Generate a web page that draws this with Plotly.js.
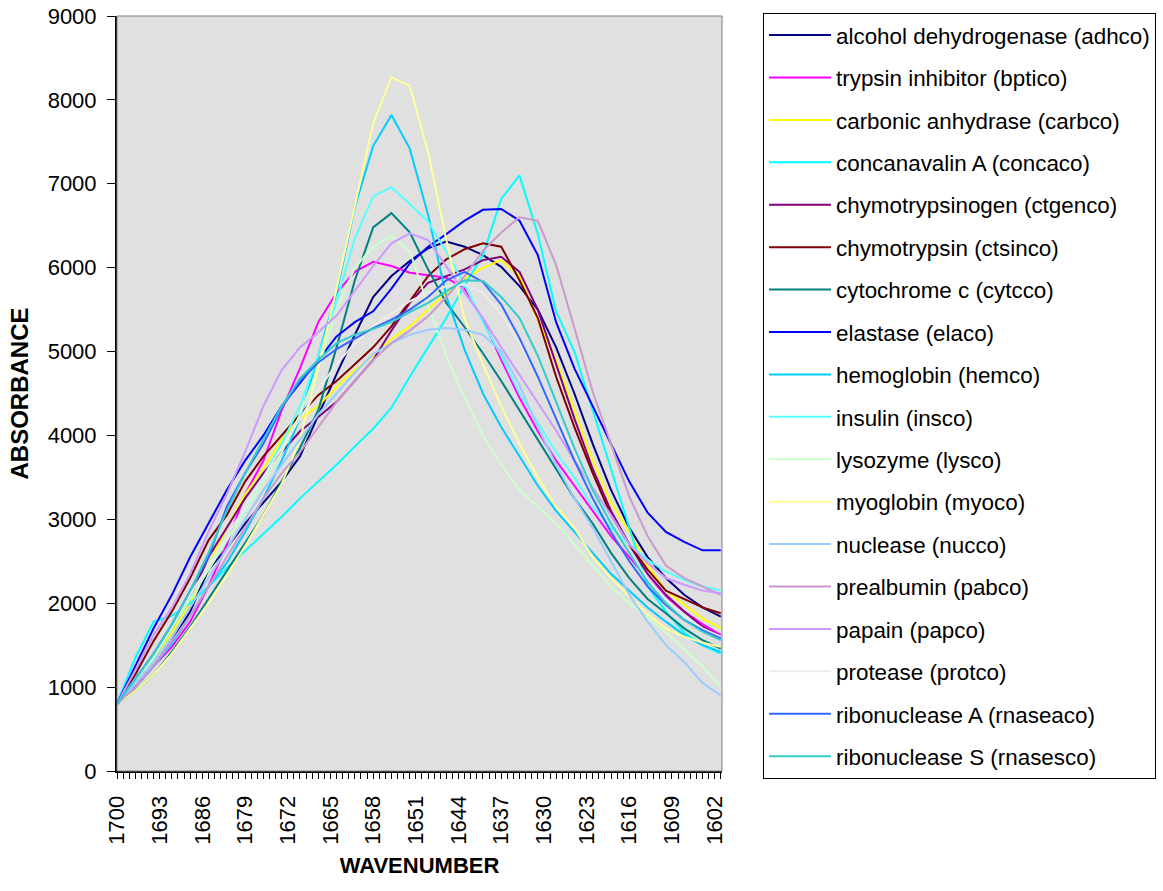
<!DOCTYPE html>
<html><head><meta charset="utf-8">
<script src="https://cdn.plot.ly/plotly-3.0.1.min.js"></script>
<style>html,body{margin:0;padding:0;background:#fff;}#chart{width:1163px;height:891px;}</style>
</head><body><div id="chart"></div>
<script>
const wavenumber = [1700,1697,1694,1691,1688,1685,1682,1679,1676,1673,1670,1667,1664,1661,1658,1655,1652,1649,1646,1643,1640,1637,1634,1631,1628,1625,1622,1619,1616,1613,1610,1607,1604,1601];
const tickLabels = [1700,1693,1686,1679,1672,1665,1658,1651,1644,1637,1630,1623,1616,1609,1602];
const yTicks = [0,1000,2000,3000,4000,5000,6000,7000,8000,9000];

const seriesNames = ["alcohol dehydrogenase (adhco)","trypsin inhibitor (bptico)","carbonic anhydrase (carbco)","concanavalin A (concaco)","chymotrypsinogen (ctgenco)","chymotrypsin (ctsinco)","cytochrome c (cytcco)","elastase (elaco)","hemoglobin (hemco)","insulin (insco)","lysozyme (lysco)","myoglobin (myoco)","nuclease (nucco)","prealbumin (pabco)","papain (papco)","protease (protco)","ribonuclease A (rnaseaco)","ribonuclease S (rnasesco)"];
const seriesColors = ["#000080","#FF00FF","#FFFF00","#00FFFF","#800080","#800000","#008080","#0000FF","#00CCFF","#55FFFF","#CCFFCC","#FFFF99","#99CCFF","#CC99CC","#CC99FF","#EBEBEB","#3366FF","#33CCCC"];

const adhco   = [800,1000,1250,1550,1900,2400,2660,2950,3200,3450,3750,4250,4730,5200,5650,5900,6080,6230,6310,6250,6150,6010,5780,5500,5050,4500,3900,3350,2900,2550,2300,2100,1950,1840];
const bptico  = [800,1000,1250,1480,1780,2200,2700,3300,3700,4300,4800,5350,5700,5950,6070,6020,5940,5910,5880,5750,5380,4900,4450,4050,3700,3400,3100,2800,2550,2300,2080,1900,1750,1620];
const carbco  = [800,1050,1350,1650,2000,2450,2900,3300,3600,3950,4200,4350,4580,4780,4950,5150,5300,5500,5700,5870,6000,6090,5900,5370,4900,4300,3700,3200,2850,2450,2150,1980,1820,1700];
const concaco = [800,1350,1780,1850,2000,2200,2420,2620,2830,3030,3250,3450,3650,3870,4080,4330,4700,5050,5400,5790,6150,6820,7100,6400,5480,5000,4310,3600,2900,2200,1900,1650,1500,1400];
const ctgenco = [800,1050,1350,1700,2050,2550,2900,3250,3550,3800,4050,4220,4400,4650,4900,5250,5580,5820,5900,5980,6090,6130,5950,5500,4850,4200,3600,3100,2700,2350,2100,1900,1720,1600];
const ctsinco = [800,1150,1550,1900,2300,2750,3050,3450,3750,4000,4250,4480,4650,4850,5050,5300,5600,5900,6100,6220,6290,6250,5850,5400,4700,4100,3550,3050,2700,2400,2150,2050,1950,1880];
const cytcco  = [800,950,1150,1420,1720,2050,2380,2720,3050,3450,3850,4300,5050,5850,6480,6650,6420,5980,5580,5290,4980,4650,4300,3950,3600,3250,2950,2600,2300,2050,1880,1700,1560,1460];
const elaco   = [800,1250,1700,2100,2550,2950,3350,3700,4000,4350,4620,4900,5180,5350,5480,5750,6050,6250,6400,6560,6690,6700,6560,6150,5350,4800,4350,3900,3450,3080,2850,2730,2630,2630];
const hemco   = [800,1000,1250,1520,1850,2200,2480,2850,3250,3700,4200,4950,5700,6720,7450,7820,7420,6630,5660,5020,4500,4100,3750,3400,3100,2850,2600,2350,2150,1950,1780,1620,1500,1420];
const insco   = [800,1050,1350,1700,2050,2400,2750,3100,3500,3900,4350,4950,5600,6350,6850,6960,6760,6550,6190,5800,5350,4950,4500,4150,3800,3500,3150,2900,2700,2520,2380,2280,2200,2150];
const lysco   = [800,1050,1350,1700,2050,2400,2750,3100,3450,3800,4250,4800,5500,6000,6250,6380,6200,5550,4950,4450,4000,3650,3350,3150,2950,2700,2450,2200,2000,1820,1650,1450,1250,1000];
const myoco   = [800,950,1150,1400,1700,2000,2330,2680,3050,3420,3950,4800,5750,6720,7720,8270,8170,7380,6330,5390,4850,4350,3900,3500,3150,2900,2550,2300,2080,1870,1700,1600,1530,1480];
const nucco   = [800,1050,1300,1600,1950,2300,2650,3000,3350,3650,3950,4250,4500,4750,4970,5100,5200,5260,5280,5260,5200,5000,4600,4100,3650,3250,2900,2500,2100,1780,1500,1300,1050,900];
const pabco   = [800,1000,1250,1550,1850,2200,2550,2900,3250,3550,3800,4100,4400,4650,4900,5100,5250,5420,5650,5900,6200,6420,6600,6560,6030,5280,4520,3900,3270,2800,2450,2300,2200,2100];
const papco   = [800,1200,1620,1950,2350,2850,3300,3800,4350,4780,5050,5230,5430,5720,6020,6290,6410,6330,6010,5700,5400,5050,4720,4390,4060,3700,3370,3050,2700,2480,2300,2220,2150,2120];
const protco  = [800,1100,1400,1750,2100,2450,2800,3150,3500,3850,4200,4550,4850,5100,5300,5450,5600,5700,5780,5800,5700,5450,5100,4700,4250,3800,3350,2950,2600,2300,2050,1850,1700,1600];
const rnaseaco= [800,1100,1400,1750,2150,2550,3150,3550,3900,4330,4650,4870,5030,5150,5280,5380,5500,5650,5850,5950,5830,5560,5160,4700,4200,3700,3250,2850,2500,2200,1980,1800,1680,1580];
const rnasesco= [800,1100,1400,1750,2150,2600,3100,3550,3950,4350,4680,4900,5100,5200,5270,5350,5470,5580,5720,5850,5840,5650,5400,4950,4400,3850,3350,2950,2600,2250,2000,1800,1660,1560];

const seriesValues = [adhco,bptico,carbco,concaco,ctgenco,ctsinco,cytcco,elaco,hemco,insco,lysco,myoco,nucco,pabco,papco,protco,rnaseaco,rnasesco];

const FONT = 'Liberation Sans, Arial, sans-serif';
const xRange = [1700, 1600.8];

const traces = seriesNames.map((name, i) => ({
  type: 'scatter', mode: 'lines',
  x: wavenumber, y: seriesValues[i],
  name: name, legendgroup: 'g' + i,
  line: {color: seriesColors[i], width: 2},
  hoverinfo: 'skip'
}));

const layout = {
  width: 1163, height: 891,
  margin: {l: 117, r: 441, t: 16, b: 120, autoexpand: false},
  paper_bgcolor: '#ffffff', plot_bgcolor: '#E0E0E0',
  font: {family: FONT, size: 22, color: '#000'},
  showlegend: true,
  legend: {
    x: 1.0678, xanchor: 'left', y: 1.004, yanchor: 'top',
    bordercolor: '#000', borderwidth: 1, bgcolor: '#fff',
    font: {family: FONT, size: 22.4, color: '#000'},
    traceorder: 'grouped', tracegroupgap: 10.3, itemwidth: 62,
    maxheight: 860
  },
  xaxis: {
    range: xRange, tickmode: 'array', tickvals: tickLabels, ticktext: tickLabels.map(String),
    tickangle: -90, ticks: 'outside', ticklen: 6, tickwidth: 1, tickcolor: '#000',
    ticklabelstandoff: 8,
    showline: true, linecolor: '#000', linewidth: 2, showgrid: false, zeroline: false,
    minor: {tickmode: 'linear', tick0: 1700, dtick: 1, ticks: 'outside', ticklen: 6, tickwidth: 1, tickcolor: '#000', showgrid: false},
    title: {text: '<b>WAVENUMBER</b>', font: {family: FONT, size: 22, color: '#000'}, standoff: 14},
    tickfont: {family: FONT, size: 22, color: '#000'}
  },
  xaxis2: {
    overlaying: 'x', anchor: 'y', side: 'bottom', range: xRange,
    tickmode: 'linear', tick0: 1700, dtick: 1, ticks: 'inside', ticklen: 6, tickwidth: 1, tickcolor: '#000',
    showticklabels: false, showgrid: false, zeroline: false, showline: false
  },
  yaxis: {
    range: [0, 9000], tickmode: 'array', tickvals: yTicks, ticktext: yTicks.map(String),
    ticks: 'outside', ticklen: 8, tickwidth: 1, tickcolor: '#000', ticklabelstandoff: 6,
    showline: true, linecolor: '#000', linewidth: 2, showgrid: false, zeroline: false,
    title: {text: '<b>ABSORBANCE</b>', font: {family: FONT, size: 24, color: '#000'}, standoff: 12},
    tickfont: {family: FONT, size: 22, color: '#000'}
  },
  shapes: [{type: 'rect', xref: 'paper', yref: 'paper', x0: 0, x1: 1, y0: 0, y1: 1,
            line: {color: '#808080', width: 1}, layer: 'above'}]
};

Plotly.newPlot('chart', traces, layout, {staticPlot: true, displayModeBar: false});
</script>
</body></html>
